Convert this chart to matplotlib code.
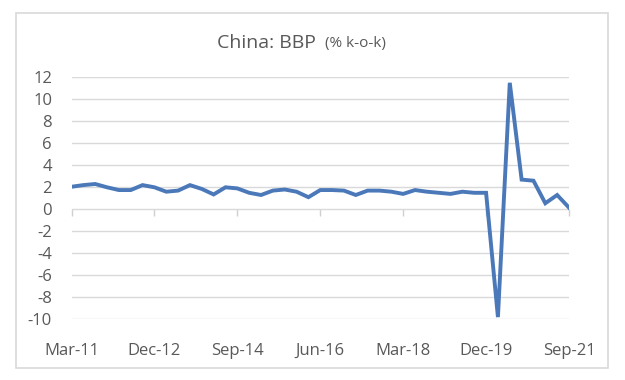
import matplotlib.pyplot as plt
from matplotlib.patches import Rectangle

# kvartaler Mar-11 .. Sep-21
kvartaler = []
for aar in range(11, 22):
    for mnd in ["Mar", "Jun", "Sep", "Dec"]:
        kvartaler.append("{}-{}".format(mnd, aar))
kvartaler = kvartaler[:43]

# BBP-vekst kvartal over kvartal (%)
bbp = [2.05, 2.2, 2.3, 2.0, 1.75, 1.75, 2.2, 2.0, 1.6, 1.7,
       2.2, 1.85, 1.35, 2.0, 1.9, 1.5, 1.3, 1.7, 1.8, 1.6,
       1.1, 1.75, 1.75, 1.7, 1.3, 1.7, 1.7, 1.6, 1.4, 1.75,
       1.6, 1.5, 1.4, 1.6, 1.5, 1.5, -9.8, 11.5, 2.7, 2.6,
       0.55, 1.3, 0.15]

vis_etiketter = ["Mar-11", "Dec-12", "Sep-14", "Jun-16", "Mar-18", "Dec-19", "Sep-21"]
y_ticks = list(range(-10, 13, 2))

tekst = "#595959"
plt.rcParams['font.family'] = ['Open Sans', 'DejaVu Sans']

fig = plt.figure(figsize=(6.25, 3.8), dpi=100)
fig.patches.append(Rectangle((16/625, 1 - 368/380), 592/625, 355/380,
                             transform=fig.transFigure, fill=False,
                             edgecolor="#d9d9d9", lw=1.2))

ax = fig.add_axes([71.5/625, 1 - 319.3/380, 497.5/625, 242/380])
x = list(range(len(bbp)))
ax.plot(x, bbp, color="#4a78b8", lw=2.8, solid_joinstyle="miter")

ax.set_xlim(0, len(bbp) - 1)
ax.set_ylim(-10, 12)
ax.set_yticks(y_ticks)
ax.set_yticklabels([str(v) for v in y_ticks])
ax.grid(axis="y", color="#d9d9d9", lw=1)
ax.set_axisbelow(True)
for s in ax.spines.values():
    s.set_visible(False)

pos = [kvartaler.index(k) for k in vis_etiketter]
ax.set_xticks(pos)
ax.set_xticklabels(vis_etiketter)
ax.tick_params(axis="x", length=0, pad=17, labelsize=12, labelcolor=tekst)
ax.tick_params(axis="y", length=0, pad=14, labelsize=12, labelcolor=tekst)

# små tick-merker på nullinjen
sec = ax.secondary_xaxis(10/22)
sec.set_xticks(pos)
sec.set_xticklabels([""] * len(pos))
sec.tick_params(axis="x", direction="out", length=5, color="#d0d0d0", width=1)
sec.spines["bottom"].set_visible(False)

fig.text(316/625, 1 - 43/380, "China: BBP", ha="right", va="center",
         fontsize=14, color=tekst)
fig.text(325/625, 1 - 43/380, "(% k-o-k)", ha="left", va="center",
         fontsize=11, color=tekst)

fig.savefig("out.png", dpi=100)
